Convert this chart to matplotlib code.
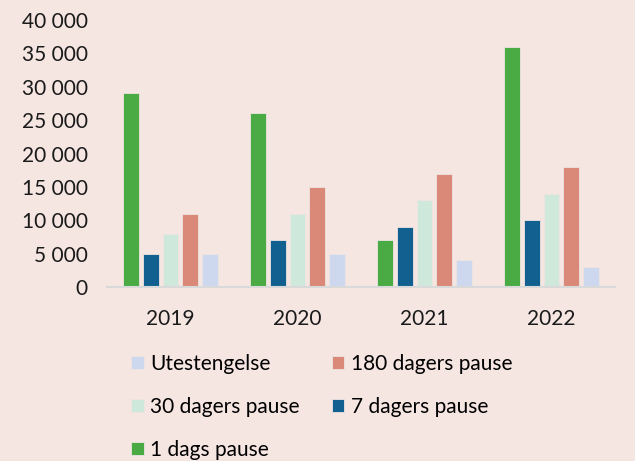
import matplotlib
matplotlib.use("Agg")
import matplotlib.pyplot as plt
import numpy as np

years = ["2019", "2020", "2021", "2022"]
series_names = ["1 dags pause", "7 dagers pause", "30 dagers pause", "180 dagers pause", "Utestengelse"]
dag1 = [29000, 26000, 7000, 36000]
dager7 = [5000, 7000, 9000, 10000]
dager30 = [8000, 11000, 13000, 14000]
dager180 = [11000, 15000, 17000, 18000]
utestengelse = [5000, 5000, 4000, 3000]
yticks = [0, 5000, 10000, 15000, 20000, 25000, 30000, 35000, 40000]
ytick_labels = ["0", "5 000", "10 000", "15 000", "20 000", "25 000", "30 000", "35 000", "40 000"]

colors = ["#4AAA44", "#12608F", "#CFE8DC", "#DA8877", "#CDD8EF"]
bg = "#F5E6E2"

plt.rcParams['font.family'] = ['Lato', 'DejaVu Sans']

fig = plt.figure(figsize=(6.35, 4.61), dpi=100, facecolor=bg)
ax = fig.add_axes([0.1685, 0.3774, 0.80, 0.5792])
ax.set_facecolor(bg)

x = np.arange(len(years))
pitch = 0.155
width = 0.125
data = [dag1, dager7, dager30, dager180, utestengelse]
bars = []
for i, (vals, name, c) in enumerate(zip(data, series_names, colors)):
    b = ax.bar(x + (i - 2) * pitch, vals, width=width, color=c, label=name,
               edgecolor="#EDE4E0", linewidth=0.6)
    bars.append(b)

ax.set_xlim(-0.5, 3.5)
ax.set_ylim(0, 40000)
ax.set_yticks(yticks)
ax.set_yticklabels(ytick_labels)
ax.set_xticks(x)
ax.set_xticklabels(years)
ax.tick_params(axis='both', length=0, labelsize=15, colors="#1a1a1a")
ax.tick_params(axis='x', pad=16)
ax.tick_params(axis='y', pad=14)
for s in ["top", "right", "left"]:
    ax.spines[s].set_visible(False)
ax.spines["bottom"].set_color("#D9D9D9")
ax.spines["bottom"].set_linewidth(1.5)

order = [4, 2, 0, 3, 1]
leg = fig.legend([bars[i] for i in order], [series_names[i] for i in order],
                 ncol=2, loc="upper left", bbox_to_anchor=(0.207, 0.232),
                 frameon=False, fontsize=15, handlelength=0.6, handleheight=0.6,
                 handletextpad=0.3, labelspacing=1.1, columnspacing=1.55,
                 borderaxespad=0, borderpad=0)

fig.savefig("out.png", dpi=100, facecolor=bg)
